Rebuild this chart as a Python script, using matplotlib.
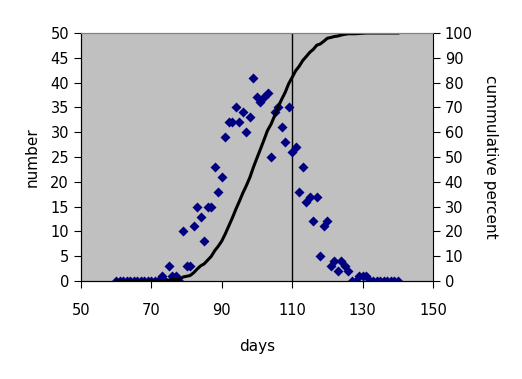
import matplotlib.pyplot as plt
import numpy as np

days = np.arange(60, 141)
number = [0, 0, 0, 0, 0, 0, 0, 0, 0, 0, 0, 0, 0,          # 60-72
          1, 0, 3, 1, 1, 0, 10, 3, 3, 11, 15, 13, 8,        # 73-85
          15, 15, 23, 18, 21, 29, 32, 32, 35, 32,           # 86-95
          34, 30, 33, 41, 37, 36, 37, 38, 25, 34,           # 96-105
          35, 31, 28, 35, 26, 27, 18, 23, 16, 17,           # 106-115
          12, 17, 5, 11, 12, 3, 4, 2, 4, 3, 2,              # 116-126
          0, 0, 1, 1, 1,                                    # 127-131
          0, 0, 0, 0, 0, 0, 0, 0, 0]                        # 132-140
number = np.array(number)
cum_percent = np.cumsum(number) / number.sum() * 100
marker_day = 110

plt.rcParams['font.family'] = ['DejaVu Sans']
fig = plt.figure(figsize=(5.22, 3.79), dpi=100)
ax = fig.add_axes([0.155, 0.2586, 0.6745, 0.6543])
ax.set_facecolor('#c0c0c0')

ax.scatter(days, number, marker='D', s=26, color='#000080', zorder=3, linewidths=0)
ax.axvline(marker_day, color='black', linewidth=1, zorder=2)

ax.set_xlim(50, 150)
ax.set_ylim(0, 50)
ax.set_xticks(np.arange(50, 151, 20))
ax.set_yticks(np.arange(0, 51, 5))
ax.tick_params(direction='out', length=5, labelsize=10.5, colors='black')
ax.tick_params(axis='x', pad=11)
ax.spines['top'].set_color('#808080')
ax.spines['right'].set_visible(False)
ax.set_xlabel('days', fontsize=11, labelpad=15)
ax.set_ylabel('number', fontsize=11, labelpad=8)

ax2 = ax.twinx()
ax2.plot(days, cum_percent, color='black', linewidth=2.2, zorder=2)
ax2.set_ylim(0, 100)
ax2.set_yticks(np.arange(0, 101, 10))
ax2.tick_params(direction='out', length=5, labelsize=10.5)
ax2.spines['top'].set_color('#808080')
ax2.set_ylabel('cummulative percent', fontsize=11, rotation=270, labelpad=18)

fig.savefig('out.png', dpi=100)
